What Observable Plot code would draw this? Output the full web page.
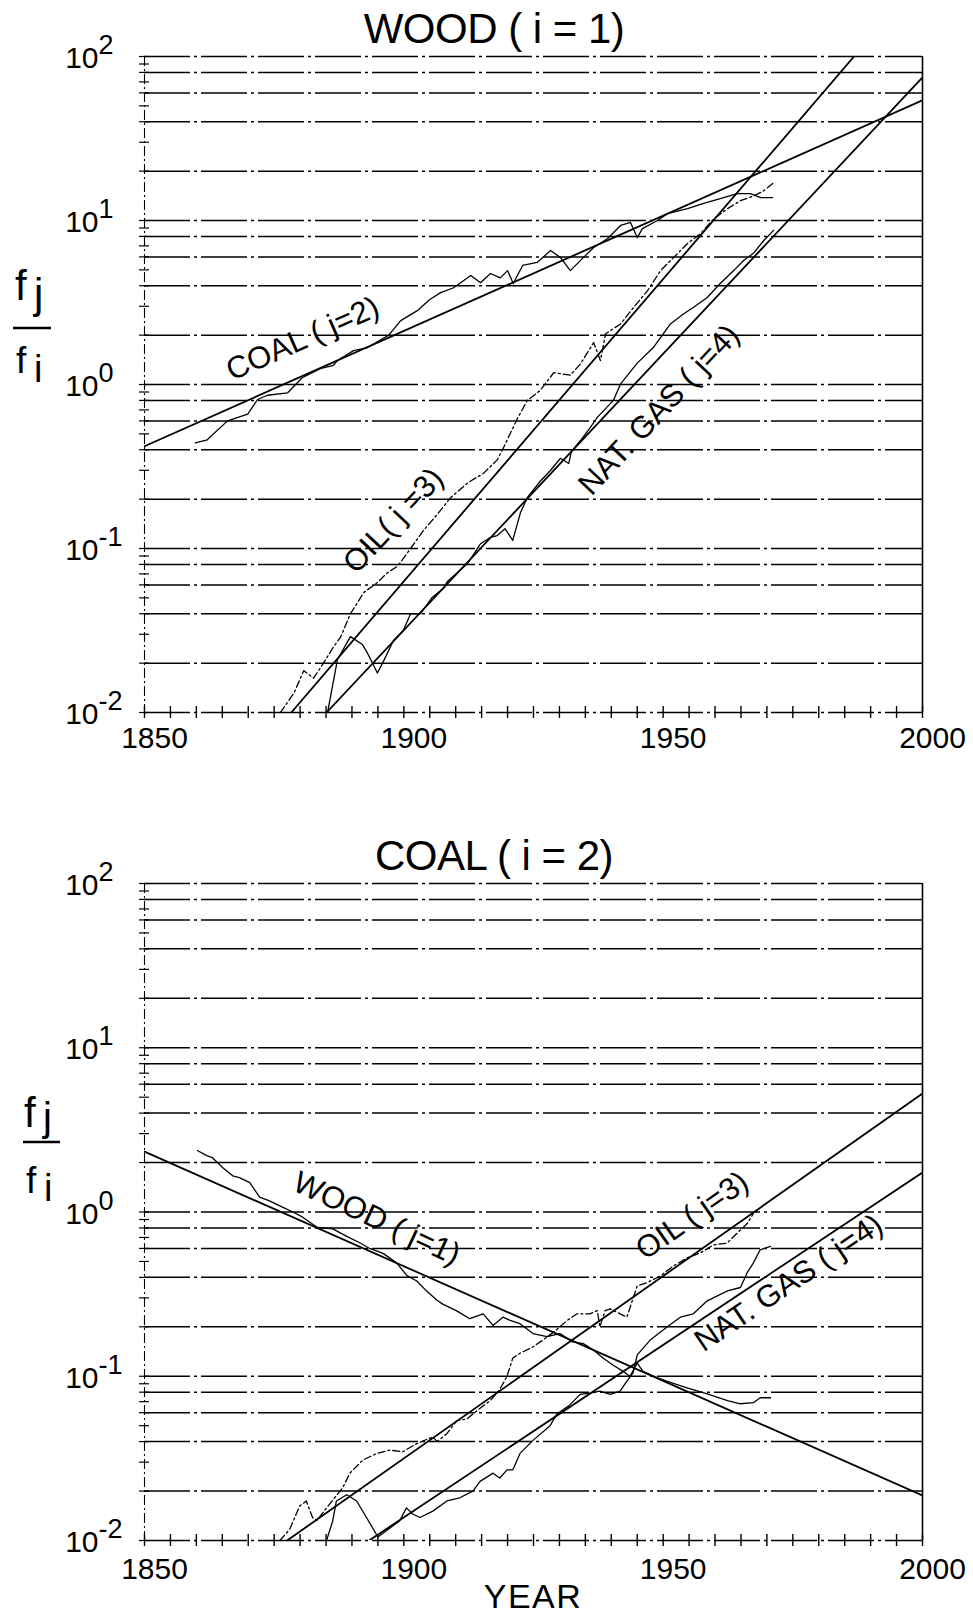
<!DOCTYPE html>
<html>
<head>
<meta charset="utf-8">
<script src="https://cdn.jsdelivr.net/npm/d3@7"></script>
<script src="https://cdn.jsdelivr.net/npm/@observablehq/plot@0.6"></script>
<style>
  html, body { margin: 0; padding: 0; background: #fff; }
  #page { position: relative; width: 973px; height: 1616px; overflow: hidden; background: #fff;
          font-family: "Liberation Sans", Arial, sans-serif; color: #000; }
  .panel { position: absolute; left: 0; }
  #overlay { position: absolute; left: 0; top: 0; pointer-events: none; }
  #overlay text { font-family: "Liberation Sans", Arial, sans-serif; fill: #000; }
</style>
</head>
<body>
<div id="page">
  <div class="panel" id="top" style="top:0px"></div>
  <div class="panel" id="bottom" style="top:790px"></div>
  <svg id="overlay" width="973" height="1616">
    <text x="494" y="43" font-size="42" text-anchor="middle" letter-spacing="-0.5" xml:space="preserve">WOOD ( i = 1)</text>
    <text x="494" y="870" font-size="42" text-anchor="middle" letter-spacing="-0.5" xml:space="preserve">COAL ( i = 2)</text>

    <text x="15" y="300" font-size="42">f</text>
    <text x="34" y="308" font-size="42">j</text>
    <line x1="13" x2="51" y1="328" y2="328" stroke="#000" stroke-width="2.6"/>
    <text x="16" y="373" font-size="37">f</text>
    <text x="34" y="382" font-size="38">i</text>

    <text x="24" y="1127" font-size="42">f</text>
    <text x="43" y="1131" font-size="40">j</text>
    <line x1="23" x2="60" y1="1142" y2="1142" stroke="#000" stroke-width="2.6"/>
    <text x="26" y="1193" font-size="37">f</text>
    <text x="44" y="1201" font-size="38">i</text>

    <text x="533" y="1608" font-size="34" text-anchor="middle" letter-spacing="1.5">YEAR</text>
  </svg>
</div>
<script>
const FONT = "Liberation Sans, Arial, sans-serif";

// ---- axes ---------------------------------------------------------------
const yearLabels = [1850, 1900, 1950, 2000];
const yearTicks = d3.range(1850, 2001, 5);
const decades = [0.01, 0.1, 1, 10, 100];
const exponents = ["-2", "-1", "0", "1", "2"];
const gridValues = [0.01, 0.02, 0.04, 0.06, 0.08, 0.1, 0.2, 0.4, 0.6, 0.8,
                    1, 2, 4, 6, 8, 10, 20, 40, 60, 80, 100];
const leftTicks = [0.01, 0.02, 0.03, 0.04, 0.05, 0.06, 0.07, 0.08, 0.09,
                   0.1, 0.2, 0.3, 0.4, 0.5, 0.6, 0.7, 0.8, 0.9,
                   1, 2, 3, 4, 5, 6, 7, 8, 9,
                   10, 20, 30, 40, 50, 60, 70, 80, 90, 100];

// ---- market share ratios relative to wood (i = 1): [year, fj/fi] --------
const coalOverWood = [
  [1859.8, 0.44], [1862.1, 0.46], [1866.0, 0.60], [1869.9, 0.66], [1871.8, 0.81],
  [1873.7, 0.86], [1877.6, 0.89], [1880.4, 1.10], [1883.9, 1.25], [1886.4, 1.31],
  [1887.2, 1.40], [1890.3, 1.61], [1893.0, 1.68], [1897.1, 2.0], [1899.4, 2.45],
  [1902.6, 2.82], [1905.0, 3.3], [1907.1, 3.63], [1909.6, 3.89], [1912.9, 4.62],
  [1914.8, 4.17], [1916.7, 4.75], [1918.6, 4.47], [1920.0, 4.95], [1921.1, 4.13],
  [1922.9, 5.32], [1925.7, 5.55], [1928.3, 6.56], [1930.2, 5.94], [1932.1, 4.95],
  [1934.6, 5.94], [1936.6, 6.84], [1939.3, 7.76], [1941.8, 9.33], [1943.7, 9.73],
  [1945.0, 7.87], [1946.0, 8.93], [1948.9, 10.0], [1950.8, 11.0], [1954.7, 11.8],
  [1957.8, 12.7], [1961.0, 13.6], [1964.3, 14.6], [1966.8, 14.6], [1968.8, 13.8],
  [1971.1, 13.8]
];
const oilOverWood = [
  [1876.2, 0.010], [1878.8, 0.0131], [1880.7, 0.018], [1882.6, 0.0162], [1884.5, 0.020],
  [1886.4, 0.025], [1887.8, 0.0288], [1889.7, 0.040], [1892.3, 0.054], [1894.9, 0.062],
  [1896.8, 0.071], [1898.8, 0.078], [1901.3, 0.10], [1903.8, 0.129], [1906.5, 0.162],
  [1909.0, 0.204], [1912.3, 0.251], [1915.4, 0.288], [1918.0, 0.347], [1919.3, 0.417],
  [1921.9, 0.62], [1923.8, 0.80], [1926.3, 0.92], [1928.9, 1.18], [1932.1, 1.14],
  [1934.1, 1.34], [1936.6, 1.80], [1937.9, 1.40], [1938.9, 2.04], [1941.8, 2.34],
  [1944.3, 2.95], [1947.0, 3.74], [1949.5, 4.95], [1952.0, 5.94], [1954.7, 7.24],
  [1957.2, 8.32], [1959.7, 10.2], [1962.4, 11.8], [1964.9, 13.2], [1967.4, 14.1],
  [1969.3, 15.1], [1971.3, 17.0]
];
const gasOverWood = [
  [1885.3, 0.010], [1887.2, 0.021], [1889.7, 0.029], [1892.0, 0.026], [1893.0, 0.023],
  [1894.9, 0.0174], [1895.9, 0.020], [1898.0, 0.0275], [1899.9, 0.0316], [1901.3, 0.040],
  [1903.2, 0.040], [1905.4, 0.050], [1907.7, 0.0575], [1908.4, 0.063], [1912.3, 0.081],
  [1914.8, 0.107], [1916.7, 0.117], [1918.0, 0.120], [1919.5, 0.132], [1921.0, 0.112],
  [1922.5, 0.166], [1923.8, 0.204], [1926.3, 0.257], [1928.3, 0.30], [1930.2, 0.355],
  [1931.8, 0.33], [1932.3, 0.39], [1934.1, 0.457], [1936.0, 0.55], [1937.3, 0.63],
  [1940.4, 0.80], [1941.8, 1.01], [1945.0, 1.35], [1948.1, 1.68], [1951.4, 2.34],
  [1953.9, 2.69], [1955.8, 2.95], [1958.5, 3.39], [1961.0, 4.13], [1963.6, 4.95],
  [1965.5, 5.70], [1967.4, 6.31], [1969.4, 7.55], [1971.3, 8.71]
];
// logistic substitution fits (straight lines on the log scale)
const coalOverWoodFit = [[1850, 0.42], [2000, 54]];
const oilOverWoodFit  = [[1878.3, 0.01], [1986.8, 100]];
const gasOverWoodFit  = [[1885.1, 0.01], [2000, 74.5]];

// ---- market share ratios relative to coal (i = 2) ------------------------
const woodOverCoal = [
  [1860.2, 2.37], [1861.9, 2.21], [1863.1, 2.14], [1865.1, 1.86], [1867.0, 1.66],
  [1868.3, 1.62], [1870.3, 1.51], [1872.2, 1.23], [1874.1, 1.17], [1876.6, 1.07],
  [1878.6, 1.0], [1880.5, 0.93], [1883.2, 0.81], [1886.3, 0.79], [1889.0, 0.71],
  [1891.5, 0.65], [1893.4, 0.60], [1896.0, 0.56], [1898.6, 0.49], [1900.6, 0.41],
  [1902.5, 0.38], [1904.4, 0.33], [1906.4, 0.29], [1907.5, 0.275], [1910.2, 0.25],
  [1912.7, 0.224], [1915.3, 0.24], [1917.2, 0.204], [1919.1, 0.229], [1920.5, 0.219],
  [1922.4, 0.209], [1924.9, 0.182], [1927.6, 0.174], [1930.1, 0.182], [1932.5, 0.162],
  [1934.6, 0.158], [1936.5, 0.145], [1938.4, 0.129], [1940.3, 0.117], [1942.3, 0.107],
  [1943.6, 0.10], [1945.0, 0.12], [1946.1, 0.107], [1948.8, 0.098], [1950.8, 0.093],
  [1954.6, 0.085], [1958.5, 0.078], [1962.4, 0.071], [1964.9, 0.068], [1967.4, 0.069],
  [1968.7, 0.074], [1970.7, 0.074]
];
const oilOverCoal = [
  [1876.1, 0.010], [1878.0, 0.0117], [1879.9, 0.0162], [1881.2, 0.0174], [1882.4, 0.0138],
  [1883.2, 0.0132], [1885.1, 0.0158], [1888.2, 0.0209], [1889.6, 0.0257], [1892.1, 0.0309],
  [1894.8, 0.0339], [1897.3, 0.0355], [1899.8, 0.0347], [1902.5, 0.0389], [1905.6, 0.0427],
  [1906.4, 0.040], [1908.3, 0.0447], [1910.2, 0.0537], [1912.2, 0.055], [1914.1, 0.0617],
  [1916.6, 0.0708], [1918.5, 0.083], [1919.9, 0.10], [1921.0, 0.129], [1922.4, 0.138],
  [1924.9, 0.151], [1926.8, 0.166], [1929.3, 0.19], [1931.5, 0.219], [1933.4, 0.24],
  [1935.9, 0.24], [1937.3, 0.251], [1937.8, 0.20], [1938.8, 0.251], [1939.8, 0.257],
  [1941.7, 0.24], [1943.0, 0.229], [1945.0, 0.355], [1946.9, 0.372], [1949.4, 0.407],
  [1951.9, 0.468], [1954.6, 0.525], [1957.1, 0.562], [1959.7, 0.63], [1962.3, 0.646],
  [1964.2, 0.74], [1966.2, 0.85], [1967.4, 0.98]
];
const gasOverCoal = [
  [1885.1, 0.010], [1886.3, 0.0132], [1887.0, 0.0174], [1889.0, 0.019], [1890.9, 0.0174],
  [1892.8, 0.0138], [1895.0, 0.0105], [1896.7, 0.0115], [1899.2, 0.0132], [1900.5, 0.0158],
  [1901.7, 0.0145], [1903.1, 0.0138], [1905.6, 0.0151], [1908.3, 0.0174], [1910.8, 0.0182],
  [1913.3, 0.020], [1914.7, 0.0229], [1917.2, 0.0257], [1918.5, 0.024], [1919.9, 0.0269],
  [1921.0, 0.0269], [1922.4, 0.0339], [1924.9, 0.0407], [1928.2, 0.050], [1929.5, 0.0589],
  [1931.8, 0.066], [1934.0, 0.0776], [1935.9, 0.079], [1937.8, 0.0813], [1939.8, 0.0776],
  [1941.7, 0.0813], [1943.0, 0.0933], [1944.2, 0.105], [1945.0, 0.135], [1947.5, 0.166],
  [1950.8, 0.20], [1953.3, 0.229], [1955.8, 0.24], [1958.5, 0.288], [1962.4, 0.331],
  [1964.9, 0.347], [1966.2, 0.427], [1967.4, 0.49], [1968.7, 0.589], [1970.7, 0.617]
];
const woodOverCoalFit = [[1850, 2.33], [2000, 0.0188]];
const oilOverCoalFit  = [[1877.5, 0.01], [2000, 5.26]];
const gasOverCoalFit  = [[1893.3, 0.01], [2000, 1.74]];

// ---- curve labels ---------------------------------------------------------
const topLabels = [
  {text: "COAL ( j=2)", year: 1880.5, value: 1.9, angle: -24},
  {text: "OIL( j =3)", year: 1898, value: 0.148, angle: -47},
  {text: "NAT. GAS ( j=4)", year: 1949.2, value: 0.70, angle: -47}
];
const bottomLabels = [
  {text: "WOOD ( j=1)", year: 1894.8, value: 0.912, angle: 25},
  {text: "OIL ( j=3)", year: 1955.6, value: 0.95, angle: -35},
  {text: "NAT. GAS ( j=4)", year: 1974.2, value: 0.37, angle: -34}
];

const X = d => d[0], Y = d => d[1];

function panel({height, marginTop, marginBottom, fits, series, labels, yearDy}) {
  const plotH = height - marginTop - marginBottom;
  const plotW = 973 - 144 - 51;
  return Plot.plot({
    width: 973,
    height,
    marginLeft: 144,
    marginRight: 51,
    marginTop,
    marginBottom,
    x: {domain: [1850, 2000], axis: null},
    y: {type: "log", domain: [0.01, 100], axis: null},
    style: {fontFamily: FONT, background: "transparent", color: "#000", overflow: "visible"},
    marks: [
      // horizontal grid (dash-dot)
      Plot.ruleY(gridValues, {stroke: "#000", strokeWidth: 1.5, strokeDasharray: "46,4,3,4"}),
      // left axis line and right frame edge
      Plot.ruleX([1850], {stroke: "#000", strokeWidth: 1.1, strokeDasharray: "10,3,2,3"}),
      Plot.ruleX([2000], {stroke: "#000", strokeWidth: 1.6}),
      // tick marks crossing the axes
      Plot.tickY(leftTicks, {y: d => d, stroke: "#000", strokeWidth: 1.2, insetLeft: -5, insetRight: plotW - 5}),
      Plot.tickX(yearTicks, {x: d => d, stroke: "#000", strokeWidth: 1.4, insetTop: plotH - 6, insetBottom: -6}),
      // fitted straight lines
      ...fits.map(f => Plot.line(f, {x: X, y: Y, stroke: "#000", strokeWidth: 1.8, clip: true})),
      // historical data
      ...series.map(s => Plot.line(s.data, {x: X, y: Y, stroke: "#000", strokeWidth: 1.3,
                                              strokeDasharray: s.dash, clip: true})),
      // y tick labels 10^k
      Plot.text(decades, {y: d => d, frameAnchor: "left", dx: -46, dy: 2, text: () => "10",
                          textAnchor: "end", fontSize: 30, fontFamily: FONT}),
      Plot.text(decades, {y: d => d, frameAnchor: "left", dx: -46, dy: -11, text: (d, i) => exponents[i],
                          textAnchor: "start", fontSize: 27, fontFamily: FONT}),
      // x tick labels
      Plot.text(yearLabels, {x: d => d, frameAnchor: "bottom", dy: yearDy, dx: 10, text: d => String(d),
                             fontSize: 30, fontFamily: FONT}),
      // curve labels
      Plot.text(labels, {x: "year", y: "value", text: "text", rotate: "angle",
                         fontSize: 31, fontFamily: FONT})
    ]
  });
}

document.getElementById("top").appendChild(panel({
  height: 790, marginTop: 56, marginBottom: 78, yearDy: 35,
  fits: [coalOverWoodFit, oilOverWoodFit, gasOverWoodFit],
  series: [
    {data: coalOverWood, dash: null},
    {data: oilOverWood, dash: "7,3,2,3"},
    {data: gasOverWood, dash: null}
  ],
  labels: topLabels
}));

document.getElementById("bottom").appendChild(panel({
  height: 826, marginTop: 93, marginBottom: 76, yearDy: 38,
  fits: [woodOverCoalFit, oilOverCoalFit, gasOverCoalFit],
  series: [
    {data: woodOverCoal, dash: null},
    {data: oilOverCoal, dash: "7,3,2,3"},
    {data: gasOverCoal, dash: null}
  ],
  labels: bottomLabels
}));
</script>
</body>
</html>
